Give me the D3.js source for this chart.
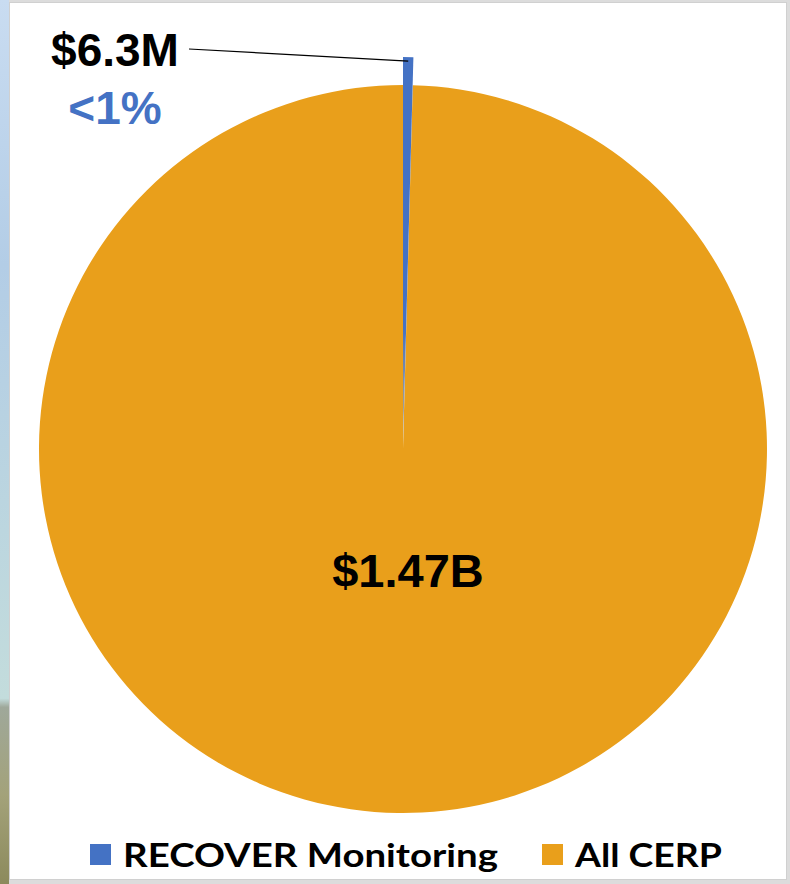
<!DOCTYPE html>
<html>
<head>
<meta charset="utf-8">
<script src="https://cdn.jsdelivr.net/npm/d3@7"></script>
<style>
html,body{margin:0;padding:0;background:#dcdcdc;}
svg{display:block;}
</style>
</head>
<body>
<svg id="chart" width="790" height="884"></svg>
<script>
const categories = ["RECOVER Monitoring", "All CERP"];
const values = [6.3, 1470]; // $ millions
const valueLabels = ["$6.3M", "$1.47B"];
const percentLabels = ["<1%", ""];
const colors = ["#4472C4", "#E99F1B"];

const svg = d3.select("#chart");
const W = 790, H = 884;

// background: left photo strip + white panel
const defs = svg.append("defs");
const g1 = defs.append("linearGradient").attr("id","strip").attr("x1",0).attr("y1",0).attr("x2",0).attr("y2",1);
g1.append("stop").attr("offset","0").attr("stop-color","#c9dcf1");
g1.append("stop").attr("offset","0.3").attr("stop-color","#b3cde6");
g1.append("stop").attr("offset","0.6").attr("stop-color","#bcd6df");
g1.append("stop").attr("offset","0.79").attr("stop-color","#c3dcdc");
g1.append("stop").attr("offset","0.8").attr("stop-color","#9fa89a");
g1.append("stop").attr("offset","0.9").attr("stop-color","#a3a27a");
g1.append("stop").attr("offset","1").attr("stop-color","#8c8a5c");
svg.append("rect").attr("x",0).attr("y",0).attr("width",W).attr("height",H).attr("fill","#dcdcdc");
svg.append("rect").attr("x",0).attr("y",0).attr("width",9).attr("height",H).attr("fill","url(#strip)");
svg.append("rect").attr("x",9.5).attr("y",2.5).attr("width",777).attr("height",877)
  .attr("fill","#ffffff").attr("stroke","#d0d0d0").attr("stroke-width",1);

const cx = 403, cy = 449, R = 364;
const pie = d3.pie().sort(null).value(d => d)(values);
const g = svg.append("g").attr("transform", `translate(${cx},${cy})`);

// orange (main) slice
g.append("path")
  .attr("d", d3.arc().innerRadius(0).outerRadius(R)(pie[1]))
  .attr("fill", colors[1]);

// exploded small slice
const bg = defs.append("linearGradient").attr("id","blueFade").attr("gradientUnits","userSpaceOnUse")
  .attr("x1",0).attr("y1",-390).attr("x2",0).attr("y2",0);
bg.append("stop").attr("offset","0").attr("stop-color",colors[0]);
bg.append("stop").attr("offset","0.7").attr("stop-color",colors[0]);
bg.append("stop").attr("offset","1").attr("stop-color","#c9b48a");
g.append("path")
  .attr("transform","translate(0,-4)")
  .attr("d", d3.arc().innerRadius(0).outerRadius(R + 24)(pie[0]))
  .attr("fill", "url(#blueFade)");

// leader line
const ang = (pie[0].startAngle + pie[0].endAngle) / 2;
const px = cx + Math.sin(ang) * (R + 24), py = cy - 4 - Math.cos(ang) * (R + 24) + 4;
svg.append("line")
  .attr("x1", 189).attr("y1", 49).attr("x2", px).attr("y2", py)
  .attr("stroke", "#000").attr("stroke-width", 1.2);

// labels
svg.append("text").attr("x", 115).attr("y", 66).attr("text-anchor","middle")
  .attr("font-family","Liberation Sans, Arial, sans-serif").attr("font-weight","bold")
  .attr("font-size", 46).attr("fill","#000").text(valueLabels[0]);
svg.append("text").attr("x", 115).attr("y", 124).attr("text-anchor","middle")
  .attr("font-family","Liberation Sans, Arial, sans-serif").attr("font-weight","bold")
  .attr("font-size", 46).attr("fill", colors[0]).text(percentLabels[0]);
svg.append("text").attr("x", 408).attr("y", 587).attr("text-anchor","middle")
  .attr("font-family","Liberation Sans, Arial, sans-serif").attr("font-weight","bold")
  .attr("font-size", 47).attr("fill","#000").text(valueLabels[1]);

// legend
const legendItems = [
  {x: 90, tx: 123, tw: 375},
  {x: 542, tx: 575, tw: 147}
];
categories.forEach((c, i) => {
  const L = legendItems[i];
  svg.append("rect").attr("x", L.x).attr("y", 844).attr("width", 21).attr("height", 21).attr("fill", colors[i]);
  svg.append("text").attr("x", L.tx).attr("y", 867)
    .attr("font-family","Lato, 'Open Sans', sans-serif").attr("font-weight","bold")
    .attr("font-size", 33).attr("fill","#000")
    .attr("textLength", L.tw).attr("lengthAdjust","spacingAndGlyphs")
    .text(c);
});
</script>
</body>
</html>
